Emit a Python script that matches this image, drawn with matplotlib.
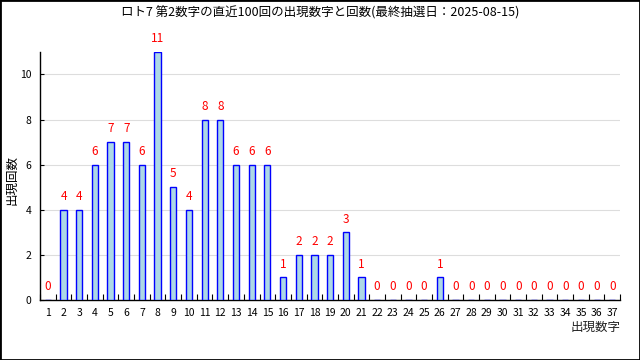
import matplotlib
matplotlib.use("Agg")
import matplotlib.pyplot as plt
from matplotlib.patches import Rectangle

plt.rcParams["font.family"] = ["Noto Sans CJK JP", "DejaVu Sans"]

TITLE = "ロト7 第2数字の直近100回の出現数字と回数(最終抽選日：2025-08-15)"
numbers = list(range(1, 38))
counts = [0, 4, 4, 6, 7, 7, 6, 11, 5, 4, 8, 8, 6, 6, 6, 1, 2, 2, 2, 3,
          1, 0, 0, 0, 0, 1, 0, 0, 0, 0, 0, 0, 0, 0, 0, 0, 0]
yticks = [0, 2, 4, 6, 8, 10]

fig = plt.figure(figsize=(6.4, 3.6), dpi=100)
ax = fig.add_axes([0.0625, 0.1667, 0.9065, 0.689])

ax.bar(numbers, counts, width=0.4, color="#add8e6", edgecolor="blue", linewidth=1.0, zorder=3)
for x, v in zip(numbers, counts):
    ax.text(x, v + 0.3, str(v), ha="center", va="bottom", color="red", fontsize=8.5)

ax.set_xlim(0.5, 37.5)
ax.set_ylim(0, 11)
ax.set_xticks(numbers)
ax.set_xticklabels([str(n) for n in numbers], fontsize=7.5)
ax.set_xticks([n + 0.5 for n in range(0, 38)], minor=True)
ax.tick_params(axis="x", which="major", length=0, pad=6)
ax.tick_params(axis="x", which="minor", direction="in", length=4, width=0.8)
ax.set_yticks(yticks)
ax.set_yticklabels([str(t) for t in yticks], fontsize=7.5)
ax.tick_params(axis="y", direction="in", length=3, width=0.8, pad=6)
ax.grid(axis="y", color="#dddddd", linewidth=0.8, zorder=0)
ax.set_axisbelow(True)
for s in ("top", "right"):
    ax.spines[s].set_visible(False)
for s in ("left", "bottom"):
    ax.spines[s].set_linewidth(1.0)
    ax.spines[s].set_color("black")

fig.text(12 / 640, 0.5, "出現回数", rotation=90, ha="center", va="center", fontsize=9)
ax.text(1.0, -0.085, "出現数字", transform=ax.transAxes, ha="right", va="top", fontsize=9,
        color="#222222")
fig.text(0.5, 0.965, TITLE, ha="center", va="center", fontsize=9)

fig.patches.append(Rectangle((0, 0), 1, 1, transform=fig.transFigure, fill=False,
                             edgecolor="black", linewidth=2.0))

fig.savefig("out.png", dpi=100)
